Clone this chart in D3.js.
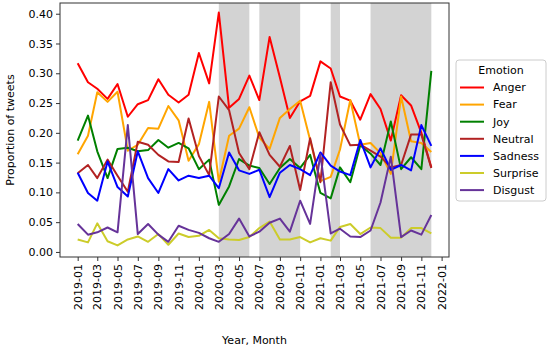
<!DOCTYPE html>
<html>
<head>
<meta charset="utf-8">
<script src="https://cdn.jsdelivr.net/npm/d3@7"></script>
<style>
  html, body { margin: 0; padding: 0; background: #fff; }
  svg { display: block; font-family: "DejaVu Sans", sans-serif; }
</style>
</head>
<body>
<svg id="chart" width="550" height="351"></svg>
<script>
// ---- Data ----
const months = ["2019-01","2019-02","2019-03","2019-04","2019-05","2019-06","2019-07","2019-08","2019-09","2019-10","2019-11","2019-12",
  "2020-01","2020-02","2020-03","2020-04","2020-05","2020-06","2020-07","2020-08","2020-09","2020-10","2020-11","2020-12",
  "2021-01","2021-02","2021-03","2021-04","2021-05","2021-06","2021-07","2021-08","2021-09","2021-10","2021-11","2021-12"];

const anger = [0.317,0.285,0.274,0.257,0.282,0.227,0.248,0.255,0.290,0.264,0.251,0.264,
  0.334,0.283,0.402,0.242,0.257,0.296,0.255,0.361,0.293,0.225,0.253,0.262,
  0.320,0.308,0.261,0.254,0.222,0.265,0.240,0.187,0.263,0.246,0.200,0.142];
const fear = [0.164,0.195,0.268,0.252,0.269,0.170,0.180,0.208,0.207,0.245,0.221,0.153,
  0.181,0.252,0.118,0.195,0.207,0.243,0.192,0.173,0.225,0.240,0.254,0.188,
  0.119,0.126,0.172,0.255,0.180,0.183,0.166,0.131,0.261,0.186,0.183,0.168];
const joy = [0.187,0.229,0.169,0.124,0.173,0.175,0.169,0.171,0.188,0.175,0.183,0.174,
  0.139,0.155,0.079,0.110,0.156,0.145,0.141,0.114,0.141,0.156,0.141,0.163,
  0.099,0.090,0.142,0.117,0.179,0.165,0.146,0.219,0.139,0.159,0.139,0.304];
const neutral = [0.132,0.146,0.124,0.155,0.128,0.101,0.185,0.180,0.163,0.152,0.151,0.224,
  0.161,0.129,0.261,0.238,0.166,0.139,0.201,0.163,0.143,0.178,0.104,0.191,
  0.117,0.285,0.214,0.179,0.180,0.170,0.160,0.142,0.146,0.197,0.197,0.141];
const sadness = [0.133,0.099,0.086,0.152,0.109,0.093,0.169,0.124,0.099,0.139,0.120,0.128,
  0.124,0.128,0.107,0.167,0.137,0.131,0.138,0.092,0.133,0.146,0.139,0.129,
  0.167,0.145,0.135,0.129,0.188,0.142,0.174,0.138,0.146,0.137,0.213,0.178];
const surprise = [0.021,0.016,0.048,0.018,0.011,0.021,0.026,0.017,0.030,0.012,0.031,0.025,
  0.027,0.037,0.023,0.021,0.020,0.025,0.040,0.051,0.021,0.021,0.025,0.016,
  0.023,0.019,0.042,0.047,0.030,0.041,0.040,0.024,0.024,0.040,0.040,0.031];
const disgust = [0.047,0.029,0.033,0.041,0.033,0.213,0.030,0.047,0.029,0.017,0.044,0.037,
  0.032,0.023,0.017,0.030,0.056,0.026,0.034,0.049,0.056,0.034,0.086,0.047,
  0.164,0.031,0.039,0.026,0.025,0.036,0.083,0.160,0.025,0.036,0.029,0.062];

const seriesNames = ["Anger","Fear","Joy","Neutral","Sadness","Surprise","Disgust"];
const seriesValues = [anger, fear, joy, neutral, sadness, surprise, disgust];
const seriesColors = ["#ff0000","#ffa500","#008000","#b22222","#0000ff","#cccc2a","#663399"];

// shaded periods [start, end]
const spanStarts = ["2020-03","2020-07","2021-02","2021-06"];
const spanEnds   = ["2020-06","2020-11","2021-03","2021-12"];

const yTicks = [0.00,0.05,0.10,0.15,0.20,0.25,0.30,0.35,0.40];
const xTickLabels = ["2019-01","2019-03","2019-05","2019-07","2019-09","2019-11","2020-01","2020-03","2020-05","2020-07","2020-09","2020-11","2021-01","2021-03","2021-05","2021-07","2021-09","2021-11","2022-01"];

// ---- Layout ----
const parse = d3.timeParse("%Y-%m");
const plot = {left: 60, right: 449, top: 3, bottom: 257};
const svg = d3.select("#chart");

const dates = months.map(parse);
const t0 = dates[0], t1 = dates[dates.length-1];
const pad = (t1 - t0) * 0.05;
const x = d3.scaleTime()
  .domain([new Date(+t0 - pad), new Date(+t1 + pad)])
  .range([plot.left, plot.right]);
const y = d3.scaleLinear()
  .domain([-0.0085, 0.418])
  .range([plot.bottom, plot.top]);

// clip
svg.append("defs").append("clipPath").attr("id","clip")
  .append("rect").attr("x", plot.left).attr("y", plot.top)
  .attr("width", plot.right - plot.left).attr("height", plot.bottom - plot.top);

// shaded spans
svg.append("g").attr("clip-path","url(#clip)")
  .selectAll("rect").data(spanStarts.map((s,i)=>[parse(s), parse(spanEnds[i])]))
  .join("rect")
  .attr("x", d => x(d[0]))
  .attr("width", d => x(d[1]) - x(d[0]))
  .attr("y", plot.top)
  .attr("height", plot.bottom - plot.top)
  .attr("fill", "#d3d3d3");

// lines
const line = d3.line().x((d,i) => x(dates[i])).y(d => y(d));
svg.append("g").attr("clip-path","url(#clip)")
  .selectAll("path").data(seriesValues)
  .join("path")
  .attr("d", d => line(d))
  .attr("fill","none")
  .attr("stroke", (d,i) => seriesColors[i])
  .attr("stroke-width", 2)
  .attr("stroke-linejoin","round");

// frame
svg.append("rect")
  .attr("x", plot.left).attr("y", plot.top)
  .attr("width", plot.right - plot.left).attr("height", plot.bottom - plot.top)
  .attr("fill","none").attr("stroke","#333").attr("stroke-width",1);

// y axis
const yAxis = d3.axisLeft(y).tickValues(yTicks).tickFormat(d3.format(".2f")).tickSize(4).tickPadding(3);
const gy = svg.append("g").attr("transform", `translate(${plot.left},0)`).call(yAxis);
gy.select(".domain").remove();
gy.selectAll("text").attr("font-size", 11).attr("fill","#000").attr("font-family","DejaVu Sans");
gy.selectAll("line").attr("stroke","#333");

// x axis
const xAxis = d3.axisBottom(x).tickValues(xTickLabels.map(parse)).tickFormat(d3.timeFormat("%Y-%m")).tickSize(4).tickPadding(3);
const gx = svg.append("g").attr("transform", `translate(0,${plot.bottom})`).call(xAxis);
gx.select(".domain").remove();
gx.selectAll("line").attr("stroke","#333");
gx.selectAll("text")
  .attr("font-size", 11).attr("fill","#000").attr("font-family","DejaVu Sans")
  .attr("transform","rotate(-90)")
  .attr("text-anchor","end")
  .attr("dy","0.32em")
  .attr("x", -7).attr("y", 0);

// axis titles
svg.append("text")
  .attr("x", (plot.left + plot.right)/2).attr("y", 344)
  .attr("text-anchor","middle").attr("font-size", 11).attr("fill","#000")
  .text("Year, Month");
svg.append("text")
  .attr("transform", `translate(14,${(plot.top + plot.bottom)/2}) rotate(-90)`)
  .attr("text-anchor","middle").attr("font-size", 11).attr("fill","#000")
  .text("Proportion of tweets");

// legend
const lg = svg.append("g");
const lx = 456, ly = 60, lw = 90, lh = 141;
lg.append("rect").attr("x", lx).attr("y", ly).attr("width", lw).attr("height", lh)
  .attr("rx", 3).attr("fill","#fff").attr("fill-opacity",0.8)
  .attr("stroke","#cccccc").attr("stroke-width",1);
lg.append("text").attr("x", lx + lw/2).attr("y", ly + 14)
  .attr("text-anchor","middle").attr("font-size", 11).attr("fill","#000").text("Emotion");
seriesNames.forEach((name, i) => {
  const yy = ly + 27.5 + i * 17.1;
  lg.append("line").attr("x1", lx + 4).attr("x2", lx + 28).attr("y1", yy).attr("y2", yy)
    .attr("stroke", seriesColors[i]).attr("stroke-width", 2);
  lg.append("text").attr("x", lx + 37).attr("y", yy).attr("dy","0.35em")
    .attr("font-size", 11).attr("fill","#000").text(name);
});
</script>
</body>
</html>
